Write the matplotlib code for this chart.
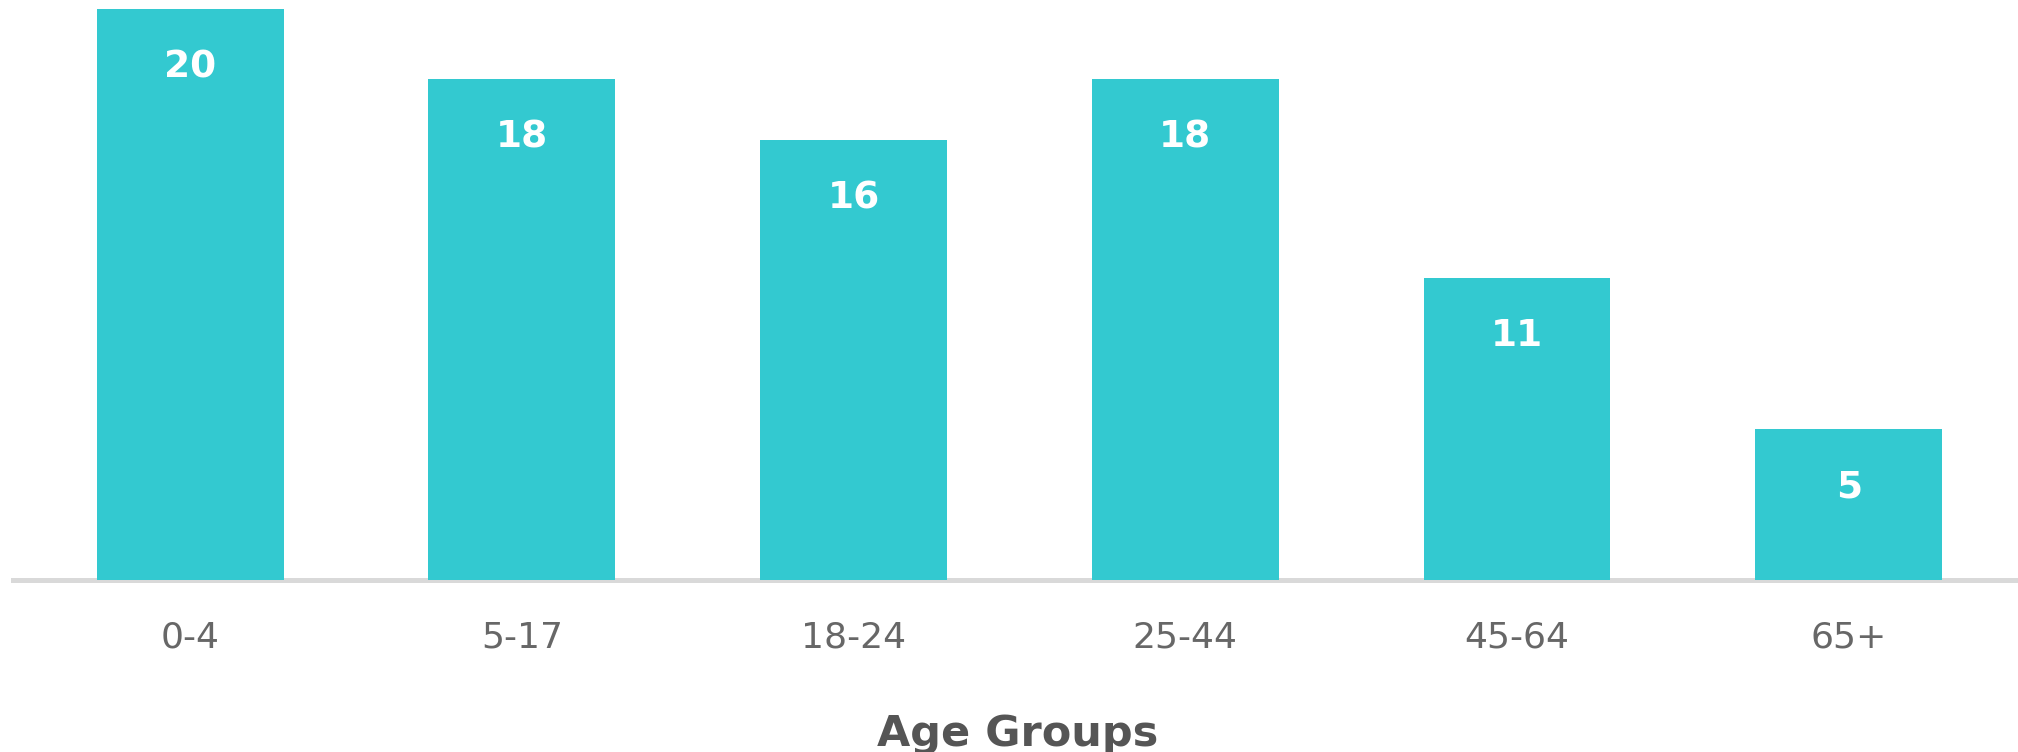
import matplotlib
matplotlib.use("Agg")
import matplotlib.pyplot as plt

# data
age_groups = ["0-4", "5-17", "18-24", "25-44", "45-64", "65+"]
values = [20.4, 17.9, 15.7, 17.9, 10.8, 5.4]
value_labels = ["20", "18", "16", "18", "11", "5"]

bar_color = "#33c9d0"
axis_color = "#d9d9d9"
tick_color = "#676767"
title_color = "#555555"

plt.rcParams['font.family'] = ['DejaVu Sans']

fig = plt.figure(figsize=(20.18, 7.52), dpi=100)
ax = fig.add_axes([13 / 2018, 172 / 752, 1 - 13 / 2018, 580 / 752])

x = list(range(len(age_groups)))
bars = ax.bar(x, values, width=0.563, color=bar_color, zorder=3)

ax.set_xlim(-0.534, 5.51)
ax.set_ylim(0, 20.71)

# value labels inside bars, fixed distance below the top
for rect, lab in zip(bars, value_labels):
    ax.annotate(lab, (rect.get_x() + rect.get_width() / 2, rect.get_height()),
                xytext=(0, -42), textcoords="offset points",
                ha="center", va="center", color="white",
                fontsize=27, fontweight="bold", zorder=4)

for s in ["top", "right", "left"]:
    ax.spines[s].set_visible(False)
ax.spines["bottom"].set_color(axis_color)
ax.spines["bottom"].set_linewidth(3.6)
ax.spines["bottom"].set_zorder(2)

ax.set_yticks([])
ax.set_xticks(x)
ax.set_xticklabels(age_groups, fontsize=26, color=tick_color)
ax.tick_params(axis="x", length=0, pad=29)

fig.text(1018 / 2018, 6 / 752, "Age Groups", ha="center", va="baseline",
         fontsize=31, fontweight="bold", color=title_color)

fig.savefig("out.png", dpi=100, facecolor="white")
